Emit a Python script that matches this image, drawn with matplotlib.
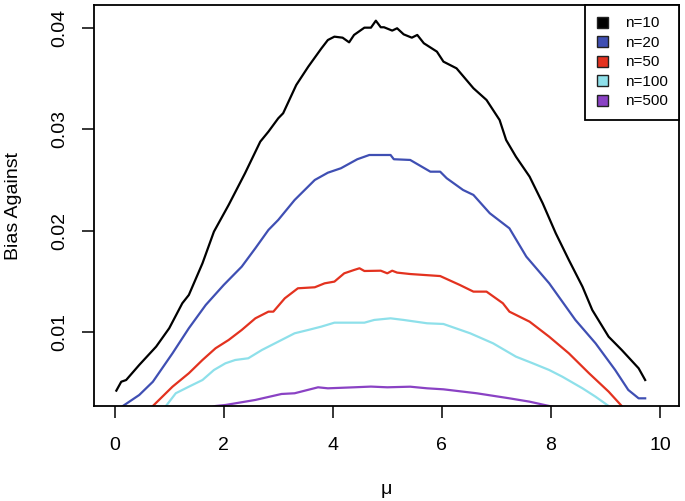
import matplotlib
matplotlib.use("Agg")
from matplotlib import pyplot as plt
from matplotlib.patches import Patch

plt.rcParams['font.family'] = ['Liberation Sans', 'DejaVu Sans']

# bias against (mu, value)
mu_10 = [0.03, 0.12, 0.21, 0.45, 0.76, 1.0, 1.24, 1.36, 1.61, 1.82, 2.09, 2.39, 2.67, 2.82,
         3.0, 3.09, 3.33, 3.55, 3.79, 3.91, 4.03, 4.18, 4.30, 4.39, 4.58, 4.70, 4.79, 4.88,
         4.94, 5.09, 5.18, 5.30, 5.45, 5.55, 5.67, 5.91, 6.03, 6.27, 6.58, 6.82, 7.06, 7.18,
         7.36, 7.61, 7.85, 8.09, 8.33, 8.58, 8.76, 9.06, 9.30, 9.61, 9.73]
bias_10 = [0.00417, 0.00505, 0.00522, 0.00671, 0.00852, 0.01034, 0.01281, 0.01363, 0.01676,
           0.01989, 0.02253, 0.02566, 0.02879, 0.02978, 0.0311, 0.0316, 0.03439, 0.0362,
           0.0380, 0.03884, 0.03917, 0.03907, 0.03861, 0.03934, 0.04006, 0.04006, 0.04075,
           0.0401, 0.0401, 0.03977, 0.0400, 0.0394, 0.03907, 0.03934, 0.03852, 0.03769,
           0.0367, 0.03604, 0.03407, 0.03291, 0.03093, 0.02895, 0.0273, 0.02533, 0.0227,
           0.01973, 0.01709, 0.01445, 0.01214, 0.0095, 0.00819, 0.00638, 0.00522]

mu_20 = [0.05, 0.15, 0.45, 0.70, 1.06, 1.36, 1.67, 2.0, 2.33, 2.58, 2.82, 3.0, 3.30, 3.67,
         3.91, 4.15, 4.45, 4.67, 4.82, 5.06, 5.12, 5.42, 5.79, 5.97, 6.09, 6.39, 6.58, 6.88,
         7.24, 7.55, 7.97, 8.45, 8.82, 9.18, 9.42, 9.61, 9.73]
bias_20 = [0.0022, 0.00265, 0.00374, 0.00505, 0.00786, 0.01034, 0.01264, 0.01462, 0.01643,
           0.01825, 0.02006, 0.02105, 0.02302, 0.025, 0.02572, 0.02616, 0.02705, 0.02747,
           0.02747, 0.02747, 0.02705, 0.02698, 0.02582, 0.02582, 0.02517, 0.02401, 0.02352,
           0.02171, 0.02022, 0.01742, 0.01478, 0.01116, 0.00885, 0.00621, 0.00424, 0.00341,
           0.00341]

mu_50 = [0.60, 0.70, 1.06, 1.36, 1.61, 1.85, 2.09, 2.33, 2.58, 2.82, 2.91, 3.12, 3.36, 3.67,
         3.85, 4.03, 4.21, 4.39, 4.49, 4.58, 4.88, 5.0, 5.09, 5.18, 5.42, 5.97, 6.33, 6.58,
         6.82, 7.12, 7.24, 7.61, 7.97, 8.33, 8.70, 9.06, 9.30, 9.40]
bias_50 = [0.0020, 0.00265, 0.00456, 0.00589, 0.0072, 0.00836, 0.00918, 0.01017, 0.01132,
           0.01198, 0.01198, 0.0133, 0.01429, 0.01439, 0.01478, 0.01495, 0.01577, 0.0161,
           0.01627, 0.0160, 0.01603, 0.01577, 0.01603, 0.01584, 0.0157, 0.0155, 0.01462,
           0.01396, 0.01396, 0.01281, 0.01198, 0.01099, 0.0095, 0.00786, 0.00589, 0.00407,
           0.00265, 0.0020]

mu_100 = [0.85, 0.94, 1.12, 1.36, 1.61, 1.82, 2.03, 2.21, 2.45, 2.70, 2.94, 3.30, 3.55, 3.79,
          4.03, 4.58, 4.76, 5.06, 5.30, 5.73, 6.03, 6.52, 6.94, 7.36, 7.67, 7.97, 8.21, 8.58,
          8.82, 9.06, 9.15]
bias_100 = [0.0020, 0.00265, 0.00391, 0.00456, 0.00522, 0.00621, 0.00687, 0.0072, 0.00737,
            0.00819, 0.00885, 0.00984, 0.01017, 0.0105, 0.01089, 0.01089, 0.01116, 0.01132,
            0.01116, 0.01083, 0.01076, 0.00984, 0.00885, 0.00753, 0.00687, 0.00621, 0.00555,
            0.0044, 0.00357, 0.00265, 0.0022]

mu_500 = [1.70, 1.85, 2.03, 2.58, 3.06, 3.30, 3.73, 3.91, 4.39, 4.70, 5.0, 5.42, 5.73, 6.03,
          6.64, 7.24, 7.61, 7.97, 8.10]
bias_500 = [0.0024, 0.00265, 0.00275, 0.00325, 0.00384, 0.00391, 0.0045, 0.0044, 0.0045,
            0.00457, 0.0045, 0.00456, 0.0044, 0.0043, 0.00391, 0.00341, 0.00308, 0.00265,
            0.0025]

labels = ['n=10', 'n=20', 'n=50', 'n=100', 'n=500']
colors = ['#000000', '#3f4fb3', '#e3321f', '#8ee0ea', '#8a42c4']
series = [(mu_10, bias_10), (mu_20, bias_20), (mu_50, bias_50),
          (mu_100, bias_100), (mu_500, bias_500)]

fig = plt.figure(figsize=(6.85, 5.01), dpi=100)
ax = fig.add_axes([0.1372, 0.1896, 0.854, 0.8004])

for (x, y), c in zip(series, colors):
    ax.plot(x, y, color=c, lw=1.6, solid_joinstyle='round')

ax.set_xlim(-0.38, 10.35)
ax.set_ylim(0.00265, 0.0423)
ax.set_xticks([0, 2, 4, 6, 8, 10])
ax.set_yticks([0.01, 0.02, 0.03, 0.04])
ax.set_yticklabels(['0.01', '0.02', '0.03', '0.04'], rotation=90, va='center')
ax.tick_params(direction='out', length=8.5, width=1.1, labelsize=14, colors='black')
ax.tick_params(axis='x', pad=14)
ax.tick_params(axis='y', pad=10)
for s in ax.spines.values():
    s.set_linewidth(1.3)

ax.set_xlabel('\u03bc', fontsize=14, labelpad=19)
ax.set_ylabel('Bias Against', fontsize=14, labelpad=21)

handles = [Patch(facecolor=c, edgecolor='#222222', lw=1.0) for c in colors]
leg = ax.legend(handles, labels, loc='upper right', bbox_to_anchor=(1, 1),
                borderaxespad=0, fancybox=False, framealpha=1, edgecolor='black',
                fontsize=11, handlelength=0.72, handleheight=0.72, handletextpad=1.1,
                labelspacing=0.36, borderpad=0.75)
leg.get_frame().set_linewidth(1.3)

fig.savefig('out.png', dpi=100)
